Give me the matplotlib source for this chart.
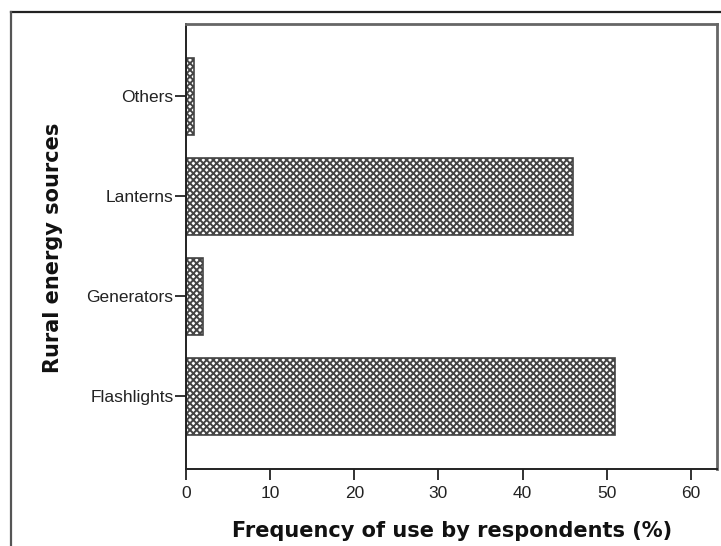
import matplotlib
matplotlib.use('Agg')
import matplotlib.pyplot as plt
from matplotlib.lines import Line2D

# data
sources = ['Flashlights', 'Generators', 'Lanterns', 'Others']
frequency = [51, 2, 46, 1]
xticks = [0, 10, 20, 30, 40, 50, 60]

plt.rcParams['hatch.linewidth'] = 1.4
plt.rcParams['hatch.color'] = '#1e1e1e'

fig = plt.figure(figsize=(7.21, 5.46), dpi=100)
ax = fig.add_axes([0.258, 0.141, 0.7365, 0.815])

pos = list(range(len(sources)))
ax.barh(pos, frequency, height=0.77, color='white', edgecolor='#444444',
        linewidth=1.2, hatch='xxxxx')

ax.set_xlim(0, 63.1)
ax.set_ylim(-0.73, 3.72)
ax.set_xticks(xticks)
ax.set_xticklabels([str(t) for t in xticks])
ax.set_yticks(pos)
ax.set_yticklabels(sources)

tick_font = ['Liberation Sans Narrow', 'Liberation Sans', 'DejaVu Sans']
for lab in ax.get_xticklabels() + ax.get_yticklabels():
    lab.set_family(tick_font)
    lab.set_fontsize(12.5)
    lab.set_color('#222222')

ax.tick_params(axis='both', direction='out', length=8, width=1.3, color='#222222')
ax.tick_params(axis='x', pad=4)
ax.tick_params(axis='y', pad=1)

ax.spines['left'].set_color('#222222')
ax.spines['bottom'].set_color('#222222')
ax.spines['left'].set_linewidth(1.4)
ax.spines['bottom'].set_linewidth(1.4)
ax.spines['top'].set_color('#666666')
ax.spines['right'].set_color('#666666')
ax.spines['top'].set_linewidth(2)
ax.spines['right'].set_linewidth(2)

label_font = dict(family='DejaVu Sans', fontweight='bold', fontsize=15, color='#111111')
fig.text(0.627, 0.027, 'Frequency of use by respondents (%)', ha='center', va='center', **label_font)
fig.text(0.074, 0.547, 'Rural energy sources', ha='center', va='center', rotation=90, **label_font)

# outer frame around the figure
fig.add_artist(Line2D([11 / 721, 1.0], [1 - 12 / 546, 1 - 12 / 546], color='#222222', lw=1.6))
fig.add_artist(Line2D([11 / 721, 11 / 721], [0.0, 1 - 12 / 546], color='#555555', lw=1.6))

fig.savefig('out.png', dpi=100)
